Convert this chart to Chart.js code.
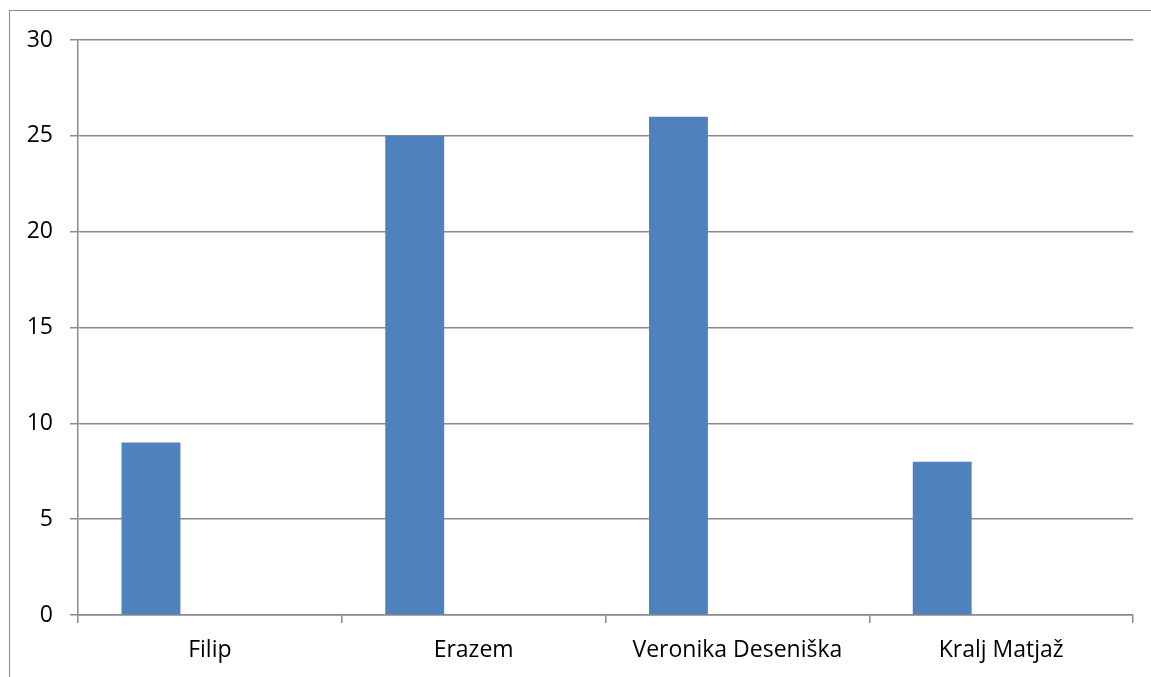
<!DOCTYPE html>
<html>
<head>
<meta charset="utf-8">
<script src="https://cdn.jsdelivr.net/npm/chart.js@4.4.0/dist/chart.umd.min.js"></script>
<style>
  html, body { margin: 0; padding: 0; background: #fff; overflow: hidden; }
  #wrap { position: relative; width: 1151px; height: 677px; }
  #frame { position: absolute; left: 9px; top: 10px; width: 1200px; height: 700px;
           border-left: 1.5px solid #8a8a8a; border-top: 1.5px solid #8a8a8a; }
  canvas { position: absolute; left: 0; top: 0; }
</style>
</head>
<body>
<div id="wrap">
  <div id="frame"></div>
  <canvas id="Chart" width="1151" height="677"></canvas>
</div>
<script>
const kategorije = ["Filip", "Erazem", "Veronika Deseniška", "Kralj Matjaž"];
const vrednosti = [9, 25, 26, 8];
const prazno = [null, null, null, null];
const yTicks = [0, 5, 10, 15, 20, 25, 30];

const mreza = "#8a8a8a";
const pisava = { family: "Open Sans", size: 23 };
const ctx = document.getElementById("Chart").getContext("2d");

new Chart(ctx, {
  type: "bar",
  data: {
    labels: kategorije,
    datasets: [
      { label: "Serija 1", data: vrednosti, backgroundColor: "#4f81bd" },
      { label: "Serija 2", data: prazno, backgroundColor: "#c0504d" },
      { label: "Serija 3", data: prazno, backgroundColor: "#9bbb59" },
    ],
  },
  options: {
    responsive: false,
    animation: false,
    categoryPercentage: 0.67,
    barPercentage: 1,
    layout: { padding: { top: 40, right: 18, left: 0, bottom: 0 } },
    plugins: { legend: { display: false }, tooltip: { enabled: false } },
    scales: {
      x: {
        grid: { offset: true, drawOnChartArea: false, color: mreza, lineWidth: 1.5, tickLength: 8 },
        border: { color: mreza, width: 1.5 },
        ticks: { color: "#000", font: pisava, padding: 14, maxRotation: 0 },
        afterFit: (scale) => { scale.height = 62; },
      },
      y: {
        min: 0,
        max: 30,
        afterBuildTicks: (scale) => { scale.ticks = yTicks.map((v) => ({ value: v })); },
        grid: { color: mreza, lineWidth: 1.5, tickLength: 8 },
        border: { color: mreza, width: 1.5 },
        ticks: { color: "#000", font: pisava, padding: 17 },
        afterFit: (scale) => { scale.width = 78; },
      },
    },
  },
});
</script>
</body>
</html>
